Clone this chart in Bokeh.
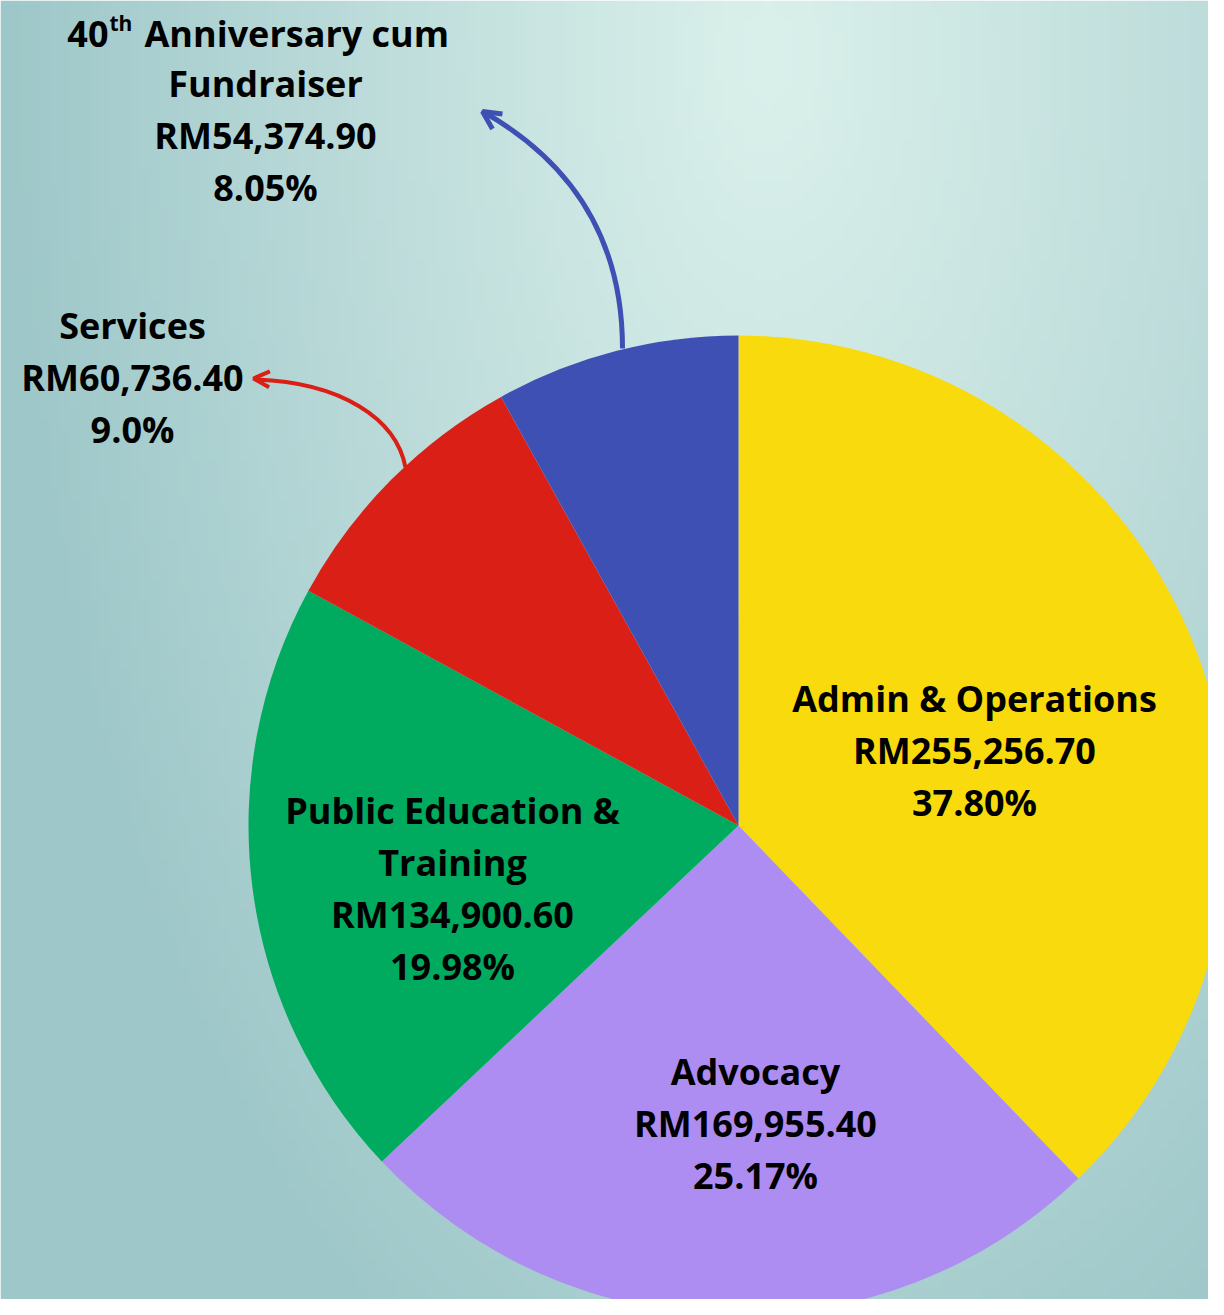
import numpy as np
from bokeh.plotting import figure
from bokeh.models import Range1d, Arrow, OpenHead
from bokeh.core.properties import value
from bokeh.embed import file_html
from bokeh.resources import INLINE

# ---- data ----
categories = ["Admin & Operations", "Advocacy", "Public Education & Training",
              "Services", "40th Anniversary cum Fundraiser"]
amounts = [255256.70, 169955.40, 134900.60, 60736.40, 54374.90]
amount_labels = ["RM255,256.70", "RM169,955.40", "RM134,900.60", "RM60,736.40", "RM54,374.90"]
percent_labels = ["37.80%", "25.17%", "19.98%", "9.0%", "8.05%"]

# ---- style ----
colors = ["#F9DA0D", "#AE8DF2", "#00AA5E", "#DA1F17", "#3F50B5"]
name_lines = [["Admin & Operations"], ["Advocacy"], ["Public Education &", "Training"],
              ["Services"], None]
label_x = [974, 755, 452, 132, 265]
label_y0 = [698, 1071, 810, 325, 33]
line_gap = 52
FONT = value("Open Sans")
FS = "36px"

W, H = 1208, 1299
p = figure(width=W, height=H, output_backend="svg", toolbar_location=None,
           x_range=Range1d(0, W), y_range=Range1d(-H, 0),
           min_border=0, outline_line_color=None)
p.axis.visible = False
p.grid.visible = False

# background gradient
ny, nx = 130, 122
gy, gx = np.mgrid[0:ny, 0:nx]
px = gx * (W / nx)
py = H - gy * (H / ny)          # row 0 = bottom
dxn = np.where(px < 760, (px - 760) / 760.0, (px - 760) / 860.0)
d = np.sqrt(dxn ** 2 + ((py - 60) / 1500.0) ** 2)
t = np.clip(d, 0, 1) ** 1.1
light = np.array([218, 240, 235])
dark = np.array([158, 199, 201])
rgb = light[None, None, :] * (1 - t[..., None]) + dark[None, None, :] * t[..., None]
img = np.zeros((ny, nx), dtype=np.uint32)
view = img.view(dtype=np.uint8).reshape((ny, nx, 4))
view[..., 0] = rgb[..., 0].astype(np.uint8)
view[..., 1] = rgb[..., 1].astype(np.uint8)
view[..., 2] = rgb[..., 2].astype(np.uint8)
view[..., 3] = 255
p.image_rgba(image=[img], x=0, y=-H, dw=W, dh=H)

# pie
cx, cy, R = 738, -825, 490
total = sum(amounts)
frac = np.array(amounts) / total
cum = np.concatenate([[0], np.cumsum(frac)])
starts = np.pi / 2 - cum[:-1] * 2 * np.pi
ends = np.pi / 2 - cum[1:] * 2 * np.pi
p.wedge(x=cx, y=cy, radius=R, start_angle=starts, end_angle=ends,
        direction="clock", fill_color=colors, line_color=None)

# labels
def txt(x, y, s, align="center", size=FS):
    p.text(x=[x], y=[-y], text=[s], text_font=FONT, text_font_style="bold",
           text_font_size=size, text_align=align, text_baseline="middle",
           text_color="#000000")

for i in range(len(categories)):
    lines = name_lines[i]
    x0 = label_x[i]
    y = label_y0[i]
    if lines is None:
        # "40th Anniversary cum" with superscript
        txt(108, y, "40", align="right")
        txt(109, y - 11, "th", align="left", size="21px")
        txt(144, y, "Anniversary cum", align="left")
        y += line_gap - 2
        txt(x0, y, "Fundraiser")
        y += line_gap
    else:
        for ln in lines:
            txt(x0, y, ln)
            y += line_gap
    txt(x0, y, amount_labels[i])
    y += line_gap
    txt(x0, y, percent_labels[i])

# curved arrows
blue, red = colors[4], colors[3]
p.bezier(x0=[622], y0=[-348], x1=[484], y1=[-112], cx0=[622], cy0=[-255],
         cx1=[585], cy1=[-170], line_color=blue, line_width=5)
p.add_layout(Arrow(end=OpenHead(size=18, line_color=blue, line_width=5),
                   x_start=497, y_start=-121, x_end=482, y_end=-111,
                   line_alpha=0))
p.bezier(x0=[405], y0=[-467], x1=[256], y1=[-379], cx0=[396], cy0=[-418],
         cx1=[340], cy1=[-382], line_color=red, line_width=4)
p.add_layout(Arrow(end=OpenHead(size=16, line_color=red, line_width=4),
                   x_start=272, y_start=-379, x_end=253, y_end=-378,
                   line_alpha=0))

open("out.html", "w").write(file_html(p, INLINE))
